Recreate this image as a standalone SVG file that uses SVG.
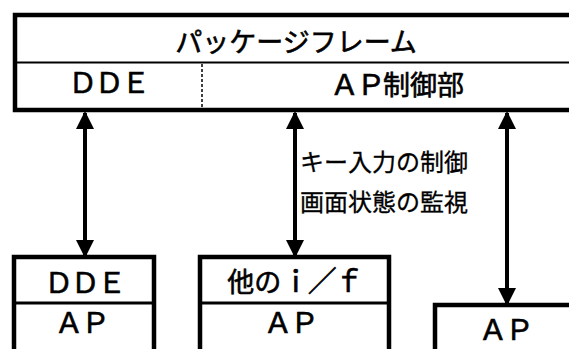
<svg xmlns="http://www.w3.org/2000/svg" width="569" height="349" viewBox="0 0 569 349">
<style>
.box{fill:none;stroke:#000;stroke-width:4.5}
.div{stroke:#000;stroke-width:2}
.t{font-family:"Noto Sans CJK JP","Noto Sans",sans-serif;font-size:27px;fill:#000;stroke:#000;stroke-width:0.6;text-anchor:middle}
.l{font-size:29px;letter-spacing:-2.5px}
.s{font-family:"Noto Sans CJK JP","Noto Sans",sans-serif;font-size:24px;fill:#000;stroke:#000;stroke-width:0.3}
.ar{stroke:#000;stroke-width:4;fill:none;marker-start:url(#ah);marker-end:url(#ah)}
</style>
<defs>
<marker id="ah" markerUnits="userSpaceOnUse" markerWidth="18" markerHeight="18" viewBox="0 0 18 18" refX="16" refY="9" orient="auto-start-reverse">
<path d="M0,0 L18,9 L0,18 z" fill="#000"/>
</marker>
</defs>
<rect width="569" height="349" fill="#fff"/>
<g id="package-frame">
<path class="box" d="M575,15 H15 V110 H575"/>
<line class="div" x1="15" y1="62.5" x2="575" y2="62.5"/>
<line x1="202" y1="64" x2="202" y2="108" stroke="#000" stroke-width="1.5" stroke-dasharray="3 2"/>
<text class="t" x="296" y="52">パッケージフレーム</text>
<text class="t l" x="108" y="93">ＤＤＥ</text>
<text class="t" x="397" y="95"><tspan class="l">ＡＰ</tspan>制御部</text>
</g>
<g id="dde-ap">
<path class="box" d="M14,352 V257 H154 V352"/>
<line x1="14" y1="303" x2="154" y2="303" stroke="#000" stroke-width="3"/>
<text class="t l" x="84" y="293">ＤＤＥ</text>
<text class="t l" x="81" y="333">ＡＰ</text>
</g>
<g id="other-if-ap">
<path class="box" d="M200,352 V257 H389 V352"/>
<line x1="200" y1="303" x2="389" y2="303" stroke="#000" stroke-width="3"/>
<text class="t" x="294" y="292">他の<tspan class="l">ｉ／ｆ</tspan></text>
<text class="t l" x="290" y="333">ＡＰ</text>
</g>
<g id="ap">
<path class="box" d="M435,352 V305 H575"/>
<text class="t l" x="505" y="340">ＡＰ</text>
</g>
<g id="connectors">
<line class="ar" x1="85" y1="113" x2="85" y2="256"/>
<line class="ar" x1="295" y1="113" x2="295" y2="256"/>
<line class="ar" x1="507" y1="113" x2="507" y2="304"/>
<text class="s" x="300" y="171">キー入力の制御</text>
<text class="s" x="300" y="211">画面状態の監視</text>
</g>
</svg>
